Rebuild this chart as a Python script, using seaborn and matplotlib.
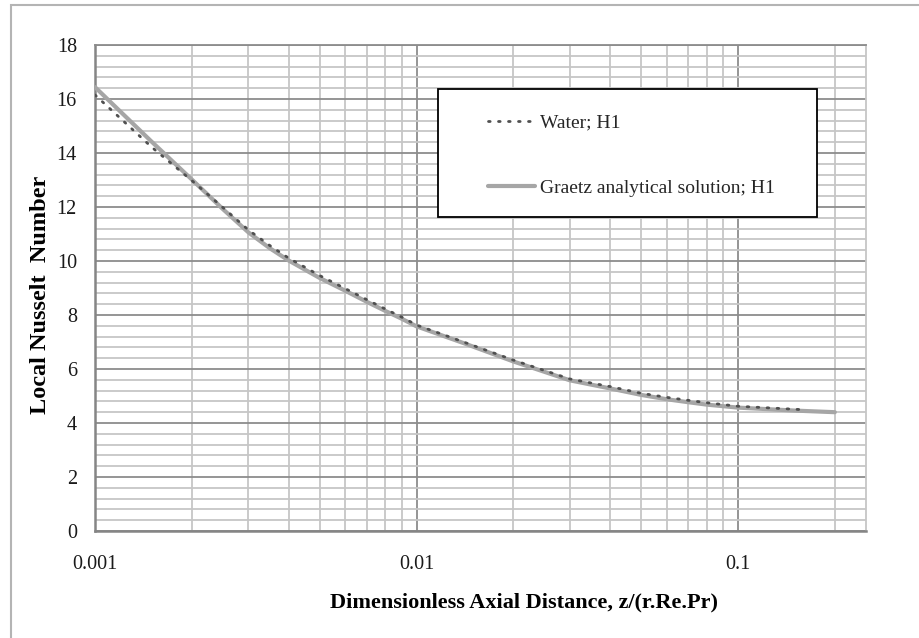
import numpy as np
import pandas as pd
import matplotlib
matplotlib.use("Agg")
import matplotlib.pyplot as plt
from matplotlib.patches import Rectangle
from matplotlib.ticker import FixedLocator, MultipleLocator, NullFormatter, FixedFormatter
import seaborn as sns

# Local Nusselt number along the tube, H1 boundary condition
graetz_x = [0.001, 0.0015, 0.002, 0.0025, 0.003, 0.0035, 0.004, 0.005, 0.006,
            0.007, 0.008, 0.009, 0.01, 0.014, 0.02, 0.03, 0.04, 0.05, 0.06,
            0.07, 0.08, 0.1, 0.15, 0.2]
graetz_nu = [16.44, 14.42, 13.02, 11.92, 11.06, 10.47, 10.02, 9.37, 8.9,
             8.49, 8.15, 7.86, 7.58, 6.96, 6.28, 5.58, 5.28, 5.04, 4.88,
             4.77, 4.68, 4.57, 4.46, 4.4]

water_x = [0.001, 0.0015, 0.002, 0.0025, 0.003, 0.0035, 0.004, 0.005, 0.006,
           0.007, 0.008, 0.009, 0.01, 0.014, 0.02, 0.03, 0.04, 0.05, 0.06,
           0.07, 0.08, 0.1, 0.155]
water_nu = [16.15, 14.22, 12.98, 11.98, 11.15, 10.57, 10.11, 9.46, 8.98,
            8.57, 8.22, 7.92, 7.63, 7.0, 6.33, 5.63, 5.35, 5.1, 4.95,
            4.84, 4.75, 4.62, 4.5]

x_major = [0.001, 0.01, 0.1]
x_major_labels = ["0.001", "0.01", "0.1"]
y_major = [0, 2, 4, 6, 8, 10, 12, 14, 16, 18]

water_label = "Water; H1"
graetz_label = "Graetz analytical solution; H1"

sns.set_style("white")
plt.rcParams["font.family"] = ["Liberation Serif", "DejaVu Serif"]

fig = plt.figure(figsize=(9.19, 6.38), dpi=100)
ax = fig.add_axes([95 / 919, 1 - 531 / 638, 771 / 919, 486 / 638])

# outer chart frame
fig.patches.append(Rectangle((11 / 919, -0.05), 1.2, (1 - 5 / 638) + 0.05,
                             transform=fig.transFigure, fill=False,
                             edgecolor="#b4b4b4", linewidth=1.5, zorder=0))

df_w = pd.DataFrame({"x": water_x, "nu": water_nu})
df_g = pd.DataFrame({"x": graetz_x, "nu": graetz_nu})

sns.lineplot(data=df_g, x="x", y="nu", ax=ax, color="#a6a6a6", linewidth=3.0,
             zorder=3, solid_capstyle="round", solid_joinstyle="round")
sns.lineplot(data=df_w, x="x", y="nu", ax=ax, color="#505050", linewidth=2.0,
             linestyle=(0, (0.6, 3.0)), dash_capstyle="round", zorder=4)

ax.set_xscale("log")
ax.set_xlim(0.001, 0.25)
ax.set_ylim(0, 18)

ax.xaxis.set_major_locator(FixedLocator(x_major))
ax.xaxis.set_major_formatter(FixedFormatter(x_major_labels))
ax.xaxis.set_minor_locator(FixedLocator(
    [m * d for d in [0.001, 0.01, 0.1] for m in range(2, 10) if m * d <= 0.25]))
ax.xaxis.set_minor_formatter(NullFormatter())
ax.yaxis.set_major_locator(FixedLocator(y_major))
ax.yaxis.set_minor_locator(MultipleLocator(0.4))

ax.grid(which="major", color="#8c8c8c", linewidth=1.3, zorder=1)
ax.grid(which="minor", color="#c6c6c6", linewidth=1.3, zorder=1)
ax.set_axisbelow(True)

for side in ["left", "bottom"]:
    ax.spines[side].set_color("#858585")
    ax.spines[side].set_linewidth(1.8)
for side in ["top", "right"]:
    ax.spines[side].set_color("#c6c6c6")
    ax.spines[side].set_linewidth(1.3)
ax.spines["top"].set_color("#8c8c8c")

ax.tick_params(axis="x", which="major", direction="out", length=6, width=1,
               color="#858585", pad=11, labelsize=14.5, labelcolor="#1a1a1a")
ax.tick_params(axis="y", which="major", direction="out", length=5, width=1,
               color="#858585", pad=8, labelsize=14.5, labelcolor="#1a1a1a")
ax.tick_params(which="minor", length=0)

ax.set_xlabel("Dimensionless Axial Distance, z/(r.Re.Pr)", fontsize=16,
              fontweight="bold", color="black")
ax.set_ylabel("Local Nusselt  Number", fontsize=17.5, fontweight="bold",
              color="black")
ax.xaxis.set_label_coords((523.5 - 95) / 771, (531 - 602) / 486)
ax.xaxis.label.set_va("center")
ax.yaxis.set_label_coords((41 - 95) / 771, (531 - 295) / 486)
ax.yaxis.label.set_va("center")

# legend box
ax.add_patch(Rectangle(((438 - 95) / 771, (531 - 217) / 486), 379 / 771, 128 / 486,
                       transform=ax.transAxes, facecolor="white",
                       edgecolor="black", linewidth=1.3, zorder=5))
handles = ax.get_lines()
leg = ax.legend([handles[1], handles[0]], [water_label, graetz_label],
                loc="upper left",
                bbox_to_anchor=((488 - 95) / 771, (531 - 114) / 486),
                frameon=False, fontsize=14, borderpad=0, borderaxespad=0,
                handlelength=2.4, handletextpad=0.3, labelspacing=2.45)
leg.set_zorder(6)

fig.savefig("out.png", dpi=100, facecolor="white")
